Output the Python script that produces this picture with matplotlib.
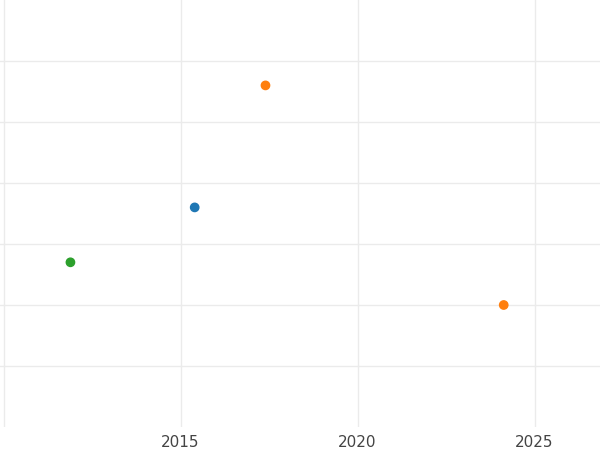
import matplotlib.pyplot as plt

# values
years = [2011.89, 2015.4, 2017.4, 2024.13]
values = [2.7, 3.6, 5.6, 2.0]
colors = ['#2ca02c', '#1f77b4', '#ff7f0e', '#ff7f0e']

fig = plt.figure(figsize=(6, 4.5), dpi=100)
ax = fig.add_axes([0, 23 / 450, 1, 427 / 450])
ax.scatter(years, values, c=colors, s=36, zorder=3)

ax.set_xlim(2009.9, 2026.85)
ax.set_ylim(0, 7)
ax.set_xticks([2010, 2015, 2020, 2025])
ax.set_xticklabels(['', '2015', '2020', '2025'])
ax.set_yticks(range(1, 7))
ax.set_yticklabels([])
ax.grid(True, color='#ebebeb', linewidth=1)
ax.tick_params(length=0, labelsize=11, colors='#444444', pad=6)
for s in ax.spines.values():
    s.set_visible(False)

fig.savefig('out.png')
